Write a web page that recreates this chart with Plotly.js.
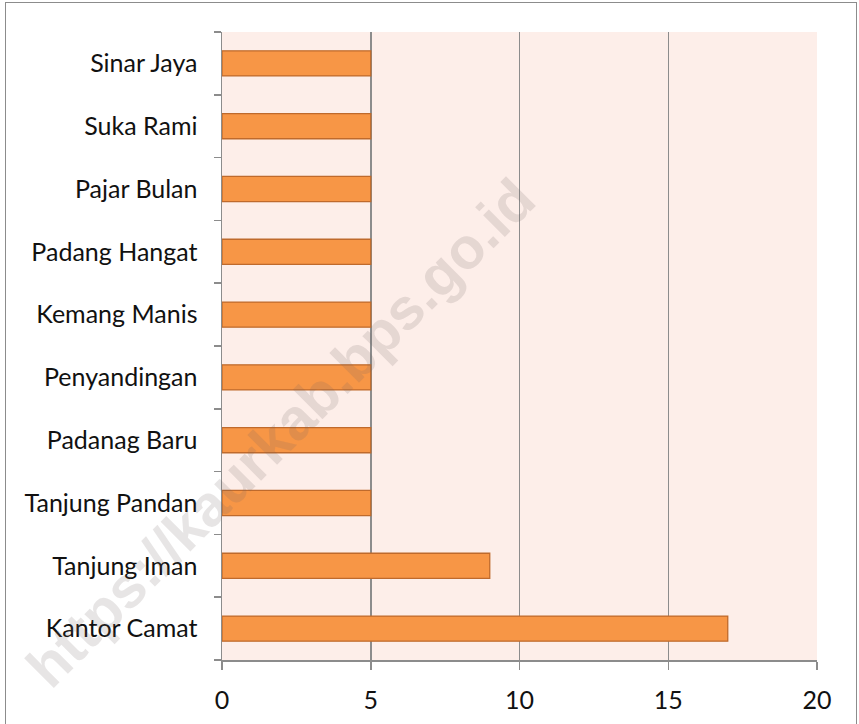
<!DOCTYPE html>
<html>
<head>
<meta charset="utf-8">
<script src="https://cdn.plot.ly/plotly-3.0.1.min.js"></script>
<style>
  html, body { margin: 0; padding: 0; background: #ffffff; overflow: hidden; }
  #chart { width: 859px; height: 724px; position: relative; }
  #frame { position: absolute; left: 5px; top: 2px; width: 852px; height: 740px;
           border: 1.5px solid #8c8c8c; pointer-events: none; box-sizing: border-box; }
</style>
</head>
<body>
<div id="chart"></div>
<div id="frame"></div>
<script>
// Data (bottom to top)
var villages = ["Kantor Camat", "Tanjung Iman", "Tanjung Pandan", "Padanag Baru",
                "Penyandingan", "Kemang Manis", "Padang Hangat", "Pajar Bulan",
                "Suka Rami", "Sinar Jaya"];
var counts = [17, 9, 5, 5, 5, 5, 5, 5, 5, 5];
var xTickValues = [0, 5, 10, 15, 20];
var watermarkText = "https://kaurkab.bps.go.id";

var labelFont = { family: "Lato, 'Open Sans', sans-serif", size: 25, color: "#111111" };

var trace = {
  type: "bar",
  orientation: "h",
  y: villages,
  x: counts,
  marker: { color: "#f79646", line: { color: "#bf6a2c", width: 1.3 } },
  hoverinfo: "x+y"
};

var layout = {
  width: 859,
  height: 724,
  margin: { l: 222, r: 42, t: 32, b: 64 },
  paper_bgcolor: "#ffffff",
  plot_bgcolor: "#fdeee9",
  showlegend: false,
  bargap: 0.6,
  font: labelFont,
  xaxis: {
    range: [0, 20],
    tickvals: xTickValues,
    ticktext: xTickValues.map(String),
    showgrid: true,
    gridcolor: "#8c8c8c",
    gridwidth: 1.5,
    zeroline: false,
    showline: true,
    linecolor: "#8c8c8c",
    linewidth: 1.5,
    ticks: "outside",
    ticklen: 8,
    tickwidth: 1.5,
    tickcolor: "#8c8c8c",
    ticklabelstandoff: 9,
    tickfont: labelFont,
    mirror: false,
    fixedrange: true
  },
  yaxis: {
    type: "category",
    showgrid: false,
    zeroline: false,
    showline: true,
    linecolor: "#8c8c8c",
    linewidth: 1.5,
    ticks: "outside",
    tickson: "boundaries",
    ticklen: 7,
    tickwidth: 1.5,
    tickcolor: "#8c8c8c",
    ticklabelstandoff: 18,
    tickfont: labelFont,
    fixedrange: true
  },
  annotations: [{
    xref: "paper", yref: "paper",
    x: 0.0975, y: 0.363,
    xanchor: "center", yanchor: "middle",
    text: watermarkText,
    showarrow: false,
    textangle: -45,
    font: { family: "'Liberation Sans', Arial, sans-serif", size: 58, color: "rgba(110,100,100,0.17)", weight: "bold" }
  }]
};

Plotly.newPlot("chart", [trace], layout, { displayModeBar: false, staticPlot: true });
</script>
</body>
</html>
